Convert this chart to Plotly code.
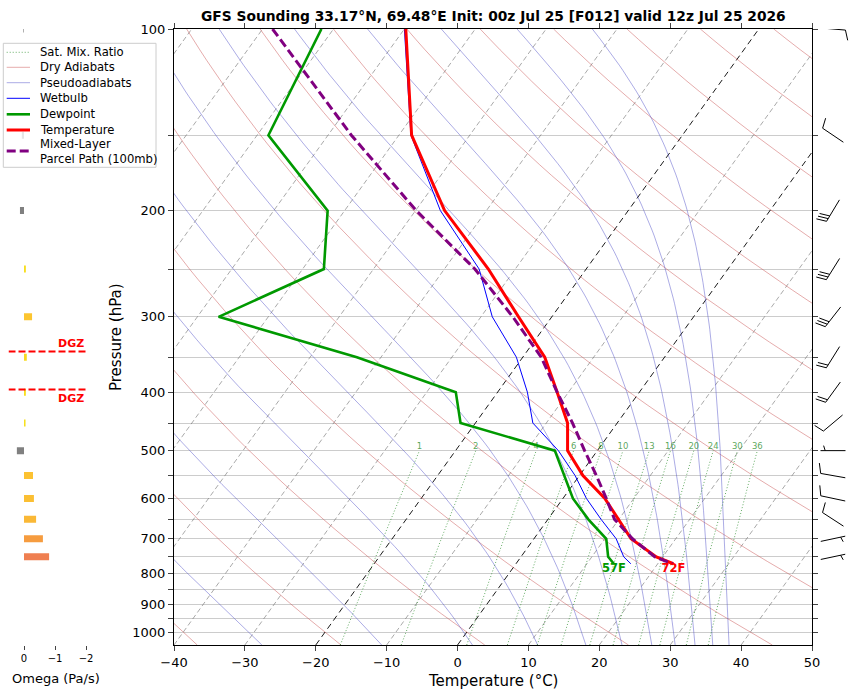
import numpy as np
import plotly.graph_objects as go
from plotly.colors import sample_colorscale

# Sounding profile (hPa, degC)
pres = [100, 150, 200, 250, 300, 350, 400, 450, 500, 550, 600, 650, 700, 750, 770]
temp = [-69.8, -58.2, -45.9, -33.8, -24.7, -16.9, -11.6, -7.0, -4.2, 0.5, 5.9, 10.0, 13.7, 19.1, 22.2]
dewp = [-81.7, -78.4, -62.4, -57.0, -67.0, -43.4, -25.9, -22.1, -6.0, -2.1, 1.4, 5.7, 10.2, 12.3, 13.8]
wetb = [-70.0, -58.3, -46.5, -35.1, -28.4, -20.9, -15.8, -11.9, -5.5, -0.6, 3.3, 7.5, 11.6, 14.5, 16.2]
parcel = [-88.6, -66.7, -49.9, -35.7, -25.5, -17.4, -11.6, -6.3, -1.8, 2.4, 6.1, 9.4, 13.9, 18.9, 22.1]

# Omega (Pa/s)
omega_p = [100, 150, 200, 250, 300, 350, 400, 450, 500, 550, 600, 650, 700, 750]
omega = [0.02, 0.07, 0.13, -0.06, -0.26, -0.09, -0.06, -0.05, 0.23, -0.29, -0.32, -0.39, -0.61, -0.81]

# Winds (direction from, deg; speed, kt)
wind_p = [100, 150, 200, 250, 300, 350, 400, 450, 500, 550, 600, 650, 700, 750]
wind_dir = [95, 304, 211, 212, 218, 212, 216, 230, 270, 280, 282, 303, 78, 78]
wind_kt = [10, 10, 30, 30, 30, 20, 20, 10, 5, 10, 10, 10, 5, 5]

# Background lines
isotherms = list(range(-120, 51, 10))
dry_theta = list(range(-40, 241, 20))          # potential temperature, degC
moist_t0 = [-27.6, -10.7, 2.1, 11.3, 18.1, 23.2, 27.4, 30.7, 33.5, 36.0, 38.3]  # degC at 1050 hPa
mix_w = [1, 2, 4, 6, 8, 10, 13, 16, 20, 24, 30, 36]  # g/kg
dgz_t = [-12, -18]

title = "GFS Sounding 33.17°N, 69.48°E Init: 00z Jul 25 [F012] valid 12z Jul 25 2026"

P_BOT, P_TOP = 1050.0, 100.0
SKEW = 61.2  # degC per decade of pressure
W, H = 856, 695
PLOT_T, PLOT_B = 29, 645
PPD = (PLOT_B - PLOT_T) / np.log10(P_BOT / P_TOP)  # px per pressure decade
FONT = "DejaVu Sans"

# line styles (shared by traces and the hand-made legend)
ST_MIX = dict(color="rgba(40,140,40,0.8)", width=0.9, dash="1px,2px")
ST_DRY = dict(color="rgba(200,80,80,0.6)", width=0.8)
ST_MOIST = dict(color="rgba(80,80,200,0.6)", width=0.8)
ST_WB = dict(color="#0000ff", width=1)
ST_TD = dict(color="#009900", width=2.6)
ST_T = dict(color="#ff0000", width=3)
ST_PCL = dict(color="#800080", width=3, dash="9px,4px")


def skew(t, p):
    return np.asarray(t, float) + SKEW * np.log10(P_BOT / np.asarray(p, float))


def es(tc):
    return 6.112 * np.exp(17.67 * tc / (tc + 243.5))


def moist_adiabat(t0, p):
    Rd, Cp, Lv, eps = 287.04, 1005.7, 2.501e6, 0.622

    def f(lnp, T):
        pp = np.exp(lnp)
        e = es(T - 273.15)
        rs = eps * e / (pp - e)
        return (Rd * T + Lv * rs) / (Cp + Lv * Lv * rs * eps / (Rd * T * T))

    lnp = np.log(p)
    out = [t0 + 273.15]
    for i in range(len(p) - 1):
        h = lnp[i + 1] - lnp[i]
        T = out[-1]
        k1 = f(lnp[i], T)
        k2 = f(lnp[i] + h / 2, T + h * k1 / 2)
        k3 = f(lnp[i] + h / 2, T + h * k2 / 2)
        k4 = f(lnp[i] + h, T + h * k3)
        out.append(T + h * (k1 + 2 * k2 + 2 * k3 + k4) / 6)
    return np.array(out) - 273.15


def mix_td(w, p):
    e = w * p / (622.0 + w)
    l = np.log(e / 6.112)
    return 243.5 * l / (17.67 - l)


def joined(lines):
    xs, ys = [], []
    for x, y in lines:
        xs += list(x) + [None]
        ys += list(y) + [None]
    return xs, ys


fig = go.Figure()

# isotherms
p2 = np.array([P_BOT, P_TOP])
gray_iso = joined([(skew([t, t], p2), p2) for t in isotherms if t not in (0, -20)])
fig.add_trace(go.Scatter(x=gray_iso[0], y=gray_iso[1], mode="lines", hoverinfo="skip",
                         line=dict(color="rgba(110,110,110,0.75)", width=0.8, dash="5px,3px")))
blk_iso = joined([(skew([t, t], p2), p2) for t in (0, -20)])
fig.add_trace(go.Scatter(x=blk_iso[0], y=blk_iso[1], mode="lines", hoverinfo="skip",
                         line=dict(color="black", width=0.9, dash="6px,4px")))

# dry adiabats
pp = np.logspace(np.log10(P_BOT), np.log10(P_TOP), 60)
dry = joined([(skew((th + 273.15) * (pp / 1000.0) ** 0.286 - 273.15, pp), pp) for th in dry_theta])
fig.add_trace(go.Scatter(x=dry[0], y=dry[1], mode="lines", name="Dry Adiabats", hoverinfo="skip", line=ST_DRY))

# pseudoadiabats
pm = np.logspace(np.log10(P_BOT), np.log10(P_TOP), 120)
moist = joined([(skew(moist_adiabat(t0, pm), pm), pm) for t0 in moist_t0])
fig.add_trace(go.Scatter(x=moist[0], y=moist[1], mode="lines", name="Pseudoadiabats", hoverinfo="skip",
                         line=ST_MOIST))

# saturation mixing ratio
pw = np.logspace(np.log10(P_BOT), np.log10(500), 20)
mix = joined([(skew(mix_td(w, pw), pw), pw) for w in mix_w])
fig.add_trace(go.Scatter(x=mix[0], y=mix[1], mode="lines", name="Sat. Mix. Ratio", hoverinfo="skip",
                         line=ST_MIX))
fig.add_trace(go.Scatter(x=[float(skew(mix_td(w, 500.0), 500.0)) for w in mix_w], y=[500] * len(mix_w),
                         mode="text", text=[str(w) for w in mix_w], textposition="top center",
                         textfont=dict(size=8.5, color="rgba(60,150,60,0.85)", family=FONT),
                         hoverinfo="skip"))

# profiles
fig.add_trace(go.Scatter(x=skew(wetb, pres), y=pres, mode="lines", name="Wetbulb", line=ST_WB))
fig.add_trace(go.Scatter(x=skew(dewp, pres), y=pres, mode="lines", name="Dewpoint", line=ST_TD))
fig.add_trace(go.Scatter(x=skew(temp, pres), y=pres, mode="lines", name="Temperature", line=ST_T))
fig.add_trace(go.Scatter(x=skew(parcel, pres), y=pres, mode="lines", name="Parcel Path", line=ST_PCL))

# surface labels
for t, c in ((dewp[-1], "#009900"), (temp[-1], "#ff0000")):
    fig.add_trace(go.Scatter(x=skew([t], [pres[-1]]), y=[pres[-1]], mode="text",
                             text=[f"<b>{round(t * 9 / 5 + 32)}F</b>"], textposition="bottom center",
                             textfont=dict(size=11.5, color=c, family=FONT), hoverinfo="skip"))

# omega bars
omega_scale = [[0, "#f5e61a"], [0.3, "#fcc431"], [0.45, "#fab637"], [0.7, "#f69a40"],
               [0.9, "#ef7f51"], [1, "#e8604f"]]


def omega_color(w):
    if w >= 0:
        return "#808080"
    return sample_colorscale(omega_scale, [min(-w / 0.9, 1.0)])[0]


for p, w in zip(omega_p, omega):
    fig.add_trace(go.Scatter(x=[0, w], y=[p, p], mode="lines", xaxis="x2", yaxis="y2",
                             line=dict(color=omega_color(w), width=7)))

# DGZ lines
lp = np.log10(pres)
dgz_p = [10 ** np.interp(t, temp, lp) for t in dgz_t]
for p in dgz_p:
    fig.add_trace(go.Scatter(x=[0.5, -2.0], y=[p, p], mode="lines", xaxis="x2", yaxis="y2",
                             line=dict(color="#ff0000", width=2, dash="7px,3px")))


# wind barbs (drawn in px units on the right strip)
def barb(p0, wdir, spd, cx=21.0, L=25.0):
    a = np.radians(wdir)
    sx, sy = np.sin(a), -np.cos(a)
    nx, ny = -sy, sx
    bx, by = cx - sx * L / 2, -sy * L / 2
    segs = [[(bx, by), (bx + sx * L, by + sy * L)]]
    spacing, hgt, wid = 0.125 * L, 0.4 * L, 0.25 * L
    full = int(spd // 10)
    half = (spd % 10) >= 5
    off = L
    for _ in range(full):
        px, py = bx + sx * off, by + sy * off
        segs.append([(px, py), (px + nx * hgt + sx * wid / 2, py + ny * hgt + sy * wid / 2)])
        off -= spacing
    if half:
        if off == L:
            off -= 1.5 * spacing
        px, py = bx + sx * off, by + sy * off
        segs.append([(px, py), (px + nx * hgt / 2 + sx * wid / 4, py + ny * hgt / 2 + sy * wid / 4)])
    xs, ys = [], []
    for s in segs:
        for x, dy in s:
            xs.append(x)
            ys.append(p0 * 10 ** (dy / PPD))
        xs.append(None)
        ys.append(None)
    return xs, ys


bxs, bys = [], []
for p, d, s in zip(wind_p, wind_dir, wind_kt):
    x, y = barb(p, d, s)
    bxs += x
    bys += y
fig.add_trace(go.Scatter(x=bxs, y=bys, mode="lines", xaxis="x3", yaxis="y3",
                         line=dict(color="black", width=1)))

# legend drawn by hand so it matches the matplotlib box
legend_items = [("Sat. Mix. Ratio", ST_MIX, 52.3), ("Dry Adiabats", ST_DRY, 67.3),
                ("Pseudoadiabats", ST_MOIST, 82.7), ("Wetbulb", ST_WB, 98.3),
                ("Dewpoint", ST_TD, 114.3), ("Temperature", ST_T, 130.0),
                ("Mixed-Layer<br>Parcel Path (100mb)", ST_PCL, 151.0)]
shapes = [dict(type="rect", xref="paper", yref="paper", x0=3.3 / W, x1=156 / W, y0=1 - 167.3 / H,
               y1=1 - 43.3 / H, fillcolor="rgba(255,255,255,0.8)", line=dict(color="#cccccc", width=1),
               layer="above")]
annos = []
for label, st, yc in legend_items:
    shapes.append(dict(type="line", xref="paper", yref="paper", x0=6.7 / W, x1=30 / W, y0=1 - yc / H,
                       y1=1 - yc / H, line=st, layer="above"))
    annos.append(dict(text=label, x=37.5 / W, y=1 - yc / H, xref="paper", yref="paper", showarrow=False,
                      xanchor="left", yanchor="middle", align="left", font=dict(size=11.6)))

# layout
ydom = [1 - PLOT_B / H, 1 - PLOT_T / H]
yrange = [np.log10(P_BOT), np.log10(P_TOP)]
ptick = list(range(100, 1001, 50))
ptext = [str(p) if p % 100 == 0 else "" for p in ptick]

annos += [
    dict(text=f"<b>{title}</b>", x=493 / W, y=1 - 16 / H, xref="paper", yref="paper",
         showarrow=False, font=dict(size=13.8), xanchor="center", yanchor="middle"),
    dict(text="Temperature (°C)", x=493 / W, y=1 - 681 / H, xref="paper", yref="paper",
         showarrow=False, font=dict(size=15), xanchor="center", yanchor="middle"),
    dict(text="Pressure (hPa)", x=116 / W, y=1 - 337 / H, xref="paper", yref="paper", textangle=-90,
         showarrow=False, font=dict(size=15), xanchor="center", yanchor="middle"),
    dict(text="Omega (Pa/s)", x=56 / W, y=1 - 678 / H, xref="paper", yref="paper",
         showarrow=False, font=dict(size=13), xanchor="center", yanchor="middle"),
    dict(text="<b>DGZ</b>", x=-2.0, y=np.log10(dgz_p[1]), xref="x2", yref="y2", showarrow=False,
         font=dict(size=11, color="#ff0000"), xanchor="right", yanchor="bottom"),
    dict(text="<b>DGZ</b>", x=-2.0, y=np.log10(dgz_p[0]), xref="x2", yref="y2", showarrow=False,
         font=dict(size=11, color="#ff0000"), xanchor="right", yanchor="top"),
]

fig.update_layout(
    width=W, height=H,
    margin=dict(l=0, r=0, t=0, b=0, autoexpand=False),
    paper_bgcolor="white", plot_bgcolor="white",
    font=dict(family=FONT, color="black", size=13),
    showlegend=False,
    xaxis=dict(domain=[174 / W, 812 / W], range=[-40, 50], tickvals=list(range(-40, 51, 10)),
               ticks="outside", ticklen=5, showline=True, linecolor="black", linewidth=1, mirror="ticks",
               showgrid=False, zeroline=False, tickfont=dict(size=13), anchor="y", automargin=False),
    yaxis=dict(domain=ydom, type="log", range=yrange, tickvals=ptick, ticktext=ptext,
               ticks="outside", ticklen=5, showline=True, linecolor="black", linewidth=1, mirror="ticks",
               showgrid=True, gridcolor="#cccccc", gridwidth=1, zeroline=False, tickfont=dict(size=13),
               anchor="x", automargin=False),
    xaxis2=dict(domain=[8.5 / W, 86 / W], range=[0.5, -2.0], tickvals=[0, -1, -2], ticks="outside",
                ticklen=4, showline=False, showgrid=False, zeroline=False, tickfont=dict(size=10),
                anchor="y2", automargin=False),
    yaxis2=dict(domain=ydom, type="log", range=yrange, visible=False, anchor="x2", automargin=False),
    xaxis3=dict(domain=[812 / W, 1], range=[0, 44], visible=False, anchor="y3", automargin=False),
    yaxis3=dict(domain=ydom, type="log", range=yrange, visible=False, anchor="x3", automargin=False),
    shapes=shapes,
    annotations=annos,
)

fig.write_html("out.html", config={"displayModeBar": False},
               post_script="document.body.style.margin='0px';")
